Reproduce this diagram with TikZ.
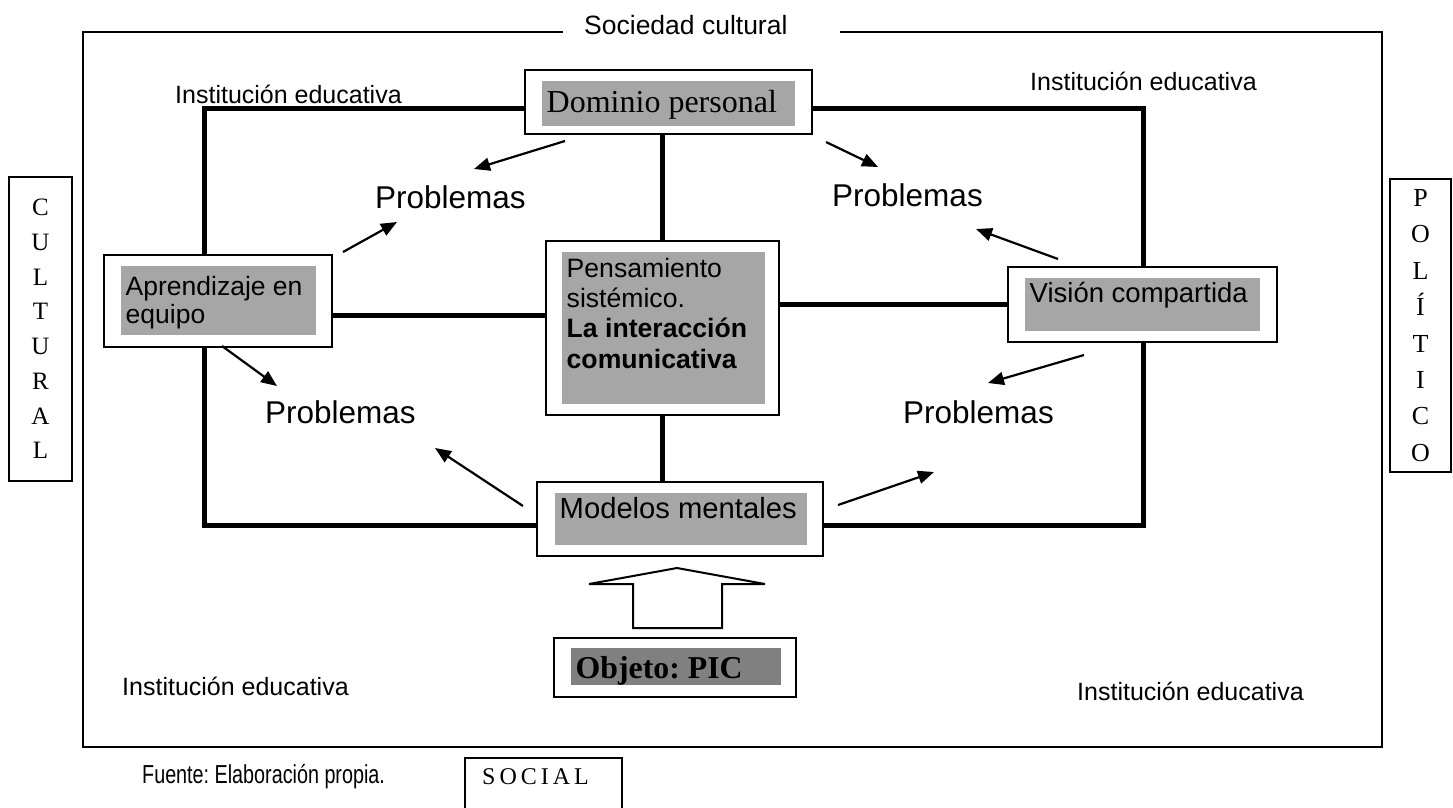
\documentclass[tikz,border=0pt]{standalone}
\usepackage{fontspec}
\setmainfont{Liberation Serif}
\setsansfont{Liberation Sans}
\usepackage{xcolor}
\usepackage{graphicx}
\usetikzlibrary{arrows.meta,positioning,backgrounds}
\definecolor{boxgray}{RGB}{166,166,166}
\definecolor{objgray}{RGB}{128,128,128}
\frenchspacing

\begin{document}
\begin{tikzpicture}[x=1pt, y=-1pt,
  outerbox/.style={draw=black, line width=2pt, fill=white, inner sep=0pt},
  graybox/.style={fill=boxgray, inner xsep=4.5pt, inner ysep=0pt, align=flush left, anchor=north west},
  sanstxt/.style={font=\sffamily\fontsize{26.5}{28}\selectfont},
  prob/.style={font=\sffamily\fontsize{31.5}{36}\selectfont, inner sep=0pt, anchor=base west},
  inst/.style={font=\sffamily\fontsize{25}{30}\selectfont, inner sep=0pt, anchor=base west},
  side/.style={draw=black, line width=1.5pt, inner sep=0pt, align=center},
  frame/.style={line width=1.5pt},
  thickln/.style={line width=5pt},
  arr/.style={-{Triangle[length=16pt, width=13pt]}, line width=2.2pt}]
\useasboundingbox (0,0) rectangle (1453,807);

% outer frame with its title
\node[inst, font=\sffamily\fontsize{26.5}{30}\selectfont] (soc) at (584,34) {Sociedad cultural};
\draw[frame] (563,32) -| (83,747) -| (1382,32) -- (840,32);

% side labels
\node[side, minimum width=63pt, minimum height=304pt, font=\fontsize{25}{34.7}\selectfont] (cult) at (40.5,329) {C\\U\\L\\T\\U\\R\\A\\L};
\node[side, minimum width=61pt, minimum height=293pt, font=\fontsize{26}{36.4}\selectfont] (pol) at (1420.5,325.5) {P\\O\\L\\Í\\T\\I\\C\\O};
\draw[frame] (465,820) |- (622,758) -- (622,820);
\node[inst, font=\fontsize{24}{28}\selectfont] (social) at (482,784) {S\,O\,C\,I\,A\,L};
\node[inst, font=\sffamily\fontsize{26}{30}\selectfont] (fuente) at (142,783) {\scalebox{0.76}[1]{Fuente: Elaboración propia.}};

% institution labels
\node[inst] (inst1) at (175,103) {Institución educativa};
\node[inst] (inst2) at (1030,90) {Institución educativa};
\node[inst] (inst3) at (122,695) {Institución educativa};
\node[inst] (inst4) at (1077,700) {Institución educativa};

% the five disciplines
\node[outerbox, minimum width=287pt, minimum height=64pt] (dom) at (668.5,102) {};
\node[graybox, text width=244pt, text height=31pt, text depth=14pt,
  font=\fontsize{32}{36}\selectfont] (domtxt) at (542,81) {Dominio personal};
\node[outerbox, minimum width=228pt, minimum height=92pt] (apr) at (218,301) {};
\node[graybox, sanstxt, text width=186pt, text height=29pt, text depth=40pt] (aprtxt) at (121,266) {Aprendizaje en\\equipo};
\node[outerbox, minimum width=233pt, minimum height=174pt] (pen) at (662.5,328) {};
\node[graybox, text width=194pt, text height=25pt, text depth=127pt,
  font=\sffamily\fontsize{26.6}{30.3}\selectfont] (pentxt) at (562,252)
  {Pensamiento\\sistémico.\\\textbf{La interacción}\\\textbf{comunicativa}};
\node[outerbox, minimum width=269pt, minimum height=75pt] (vis) at (1142.5,304.5) {};
\node[graybox, text width=226pt, text height=24pt, text depth=29pt,
  font=\sffamily\fontsize{27.5}{30}\selectfont] (vistxt) at (1025,278) {Visión compartida};
\node[outerbox, minimum width=286pt, minimum height=74pt] (mod) at (680,519) {};
\node[graybox, text width=243pt, text height=25pt, text depth=27pt,
  font=\sffamily\fontsize{29.2}{32}\selectfont] (modtxt) at (555,493) {Modelos mentales};
\node[outerbox, minimum width=242pt, minimum height=59pt] (obj) at (675,667.5) {};
\node[graybox, fill=objgray, text width=201pt, text height=30pt, text depth=7pt,
  font=\bfseries\fontsize{31.8}{34}\selectfont] (objtxt) at (571,648) {Objeto: PIC};

% block arrow from the object up to the mental models
\draw[line width=2pt, fill=white] (633,628) -- (633,584) -- (589,584) -- (677,568)
  -- (765,584) -- (722,584) -- (722,628) -- cycle;

% problems
\node[prob] (ptl) at (375,208) {Problemas};
\node[prob] (ptr) at (832,206) {Problemas};
\node[prob] (pbl) at (265,423) {Problemas};
\node[prob] (pbr) at (903,423) {Problemas};

% thick frame and links, behind the boxes
\coordinate (tl) at (204,108);
\coordinate (br) at (1143,525);
\begin{scope}[on background layer]
\draw[thickln] (tl) rectangle (br);
\draw[thickln] (pen.north) -- (pen.north |- dom.south);
\draw[thickln] (pen.south) -- (pen.south |- mod.north);
\draw[thickln] ([yshift=-14pt]apr.east) -- ([yshift=-14pt]apr.east -| pen.west);
\draw[thickln] (vis.west) -- (vis.west -| pen.east);
\end{scope}

% arrows towards the problems
\coordinate (dom-a) at (565,141);  \coordinate (ptl-a) at (474,169);
\coordinate (dom-b) at (826,142);  \coordinate (ptr-a) at (878,167);
\coordinate (apr-a) at (343,252);  \coordinate (ptl-b) at (397,222);
\coordinate (apr-b) at (222,346);  \coordinate (pbl-a) at (277,386);
\coordinate (vis-a) at (1058,259); \coordinate (ptr-b) at (976,229);
\coordinate (vis-b) at (1084,355); \coordinate (pbr-a) at (988,383);
\coordinate (mod-a) at (523,506);  \coordinate (pbl-b) at (435,448);
\coordinate (mod-b) at (838,505);  \coordinate (pbr-b) at (934,472);
\foreach \s/\t in {dom-a/ptl-a, dom-b/ptr-a, apr-a/ptl-b, apr-b/pbl-a,
                   vis-a/ptr-b, vis-b/pbr-a, mod-a/pbl-b, mod-b/pbr-b}
  \draw[arr] (\s) -- (\t);
\end{tikzpicture}
\end{document}
